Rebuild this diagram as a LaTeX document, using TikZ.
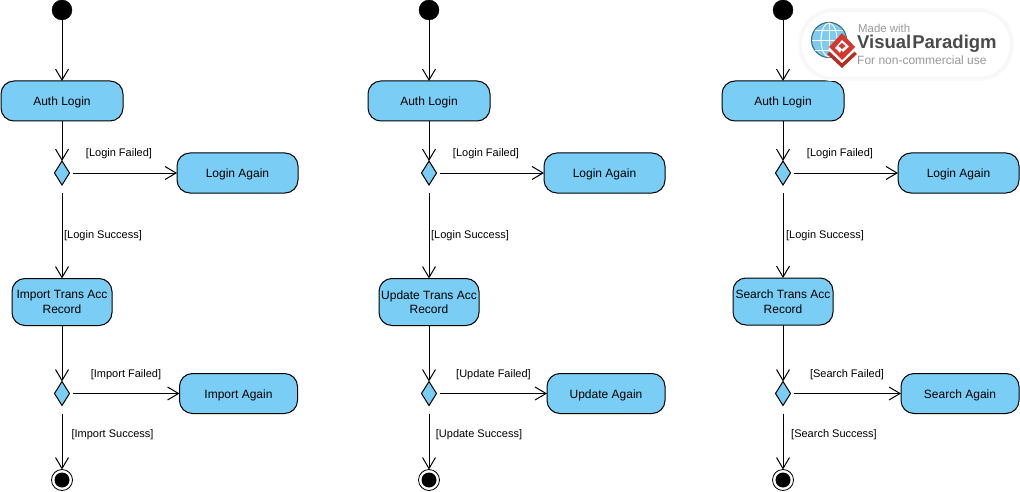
\documentclass[tikz,border=0pt]{standalone}
\usepackage{fontspec}
\setmainfont{Liberation Sans}
\usetikzlibrary{arrows.meta,shapes.geometric}
\definecolor{actblue}{HTML}{7ACEF5}
\definecolor{logogray}{HTML}{999999}
\definecolor{logodark}{HTML}{4A4A4A}
\definecolor{logored}{HTML}{D4382C}
\definecolor{logoblue}{HTML}{5FBDEB}
\tikzset{
	flow/.style={draw=black,line width=1pt,-{Straight Barb[length=11pt,width=13pt,line width=1pt]}},
	action/.style={draw=black,line width=1pt,fill=actblue,rectangle,rounded corners=13pt,inner sep=0pt,outer sep=0pt,align=center,font=\fontsize{12}{14.5}\selectfont,execute at begin node={\rule{0pt}{11.6pt}}},
	decision/.style={draw=black,line width=1pt,fill=actblue,diamond,inner sep=0pt,outer sep=0pt,minimum width=15pt,minimum height=24pt},
	startdot/.style={circle,fill=black,draw=black,inner sep=0pt,outer sep=0pt,minimum size=20pt},
	endring/.style={circle,fill=white,draw=black,line width=0.8pt,inner sep=0pt,outer sep=0pt,minimum size=21pt},
	enddot/.style={circle,fill=black,inner sep=0pt,outer sep=0pt,minimum size=15pt},
	guard/.style={inner sep=0pt,yshift=-1.5pt,font=\fontsize{11}{13}\selectfont},
}
\begin{document}
\begin{tikzpicture}[x=1pt,y=-1pt]
	\useasboundingbox (0,0) rectangle (1020,492);
	% import column
	\node [startdot] (s1) at (62,10) {};
	\node [action,minimum width=122pt,minimum height=40pt] (a1) at (62,101) {Auth Login};
	\node [decision] (d1) at (62,173) {};
	\node [action,minimum width=121pt,minimum height=40pt] (l1) at (237.5,173) {Login Again};
	\node [action,minimum width=100pt,minimum height=47pt] (r1) at (62,302) {Import Trans Acc\\Record};
	\node [decision] (q1) at (62,393.5) {};
	\node [action,minimum width=118pt,minimum height=40pt] (t1) at (238.5,393.5) {Import Again};
	\node [endring] (e1) at (62,480) {};
	\node [enddot] (f1) at (e1) {};
	\draw [flow] (s1) -- (a1);
	\draw [flow] (a1) -- (d1);
	\draw [flow,shorten <=3pt] (d1) -- (l1);
	\draw [flow,shorten <=8pt] (d1) -- (r1);
	\draw [flow] (r1) -- (q1);
	\draw [flow,shorten <=3pt] (q1) -- (t1);
	\draw [flow,shorten <=8pt] (q1) -- (e1);
	\node [guard] (g1) at (119,152.5) {[Login Failed]};
	\node [guard] (h1) at (103,234) {[Login Success]};
	\node [guard] (i1) at (126,373) {[Import Failed]};
	\node [guard] (j1) at (112.5,433) {[Import Success]};
	% update column
	\node [startdot] (s2) at (429,10) {};
	\node [action,minimum width=122pt,minimum height=40pt] (a2) at (429,101) {Auth Login};
	\node [decision] (d2) at (429,173) {};
	\node [action,minimum width=121pt,minimum height=40pt] (l2) at (604.5,173) {Login Again};
	\node [action,minimum width=100pt,minimum height=47pt] (r2) at (429,302) {Update Trans Acc\\Record};
	\node [decision] (q2) at (429,393.5) {};
	\node [action,minimum width=118pt,minimum height=40pt] (t2) at (606,393.5) {Update Again};
	\node [endring] (e2) at (429,480) {};
	\node [enddot] (f2) at (e2) {};
	\draw [flow] (s2) -- (a2);
	\draw [flow] (a2) -- (d2);
	\draw [flow,shorten <=3pt] (d2) -- (l2);
	\draw [flow,shorten <=8pt] (d2) -- (r2);
	\draw [flow] (r2) -- (q2);
	\draw [flow,shorten <=3pt] (q2) -- (t2);
	\draw [flow,shorten <=8pt] (q2) -- (e2);
	\node [guard] (g2) at (486,152.5) {[Login Failed]};
	\node [guard] (h2) at (470,234) {[Login Success]};
	\node [guard] (i2) at (493.5,373) {[Update Failed]};
	\node [guard] (j2) at (479,433) {[Update Success]};
	% search column
	\node [startdot] (s3) at (783,10) {};
	\node [action,minimum width=122pt,minimum height=40pt] (a3) at (783,101) {Auth Login};
	\node [decision] (d3) at (783,173) {};
	\node [action,minimum width=121pt,minimum height=40pt] (l3) at (958.5,173) {Login Again};
	\node [action,minimum width=100pt,minimum height=47pt] (r3) at (783,301.5) {Search Trans Acc\\Record};
	\node [decision] (q3) at (783,393.5) {};
	\node [action,minimum width=118pt,minimum height=40pt] (t3) at (960,393.5) {Search Again};
	\node [endring] (e3) at (783,480) {};
	\node [enddot] (f3) at (e3) {};
	\draw [flow] (s3) -- (a3);
	\draw [flow] (a3) -- (d3);
	\draw [flow,shorten <=3pt] (d3) -- (l3);
	\draw [flow,shorten <=8pt] (d3) -- (r3);
	\draw [flow] (r3) -- (q3);
	\draw [flow,shorten <=3pt] (q3) -- (t3);
	\draw [flow,shorten <=8pt] (q3) -- (e3);
	\node [guard] (g3) at (840,152.5) {[Login Failed]};
	\node [guard] (h3) at (825,234) {[Login Success]};
	\node [guard] (i3) at (847,373) {[Search Failed]};
	\node [guard] (j3) at (834,433) {[Search Success]};
	% logo
	\fill [black!2,rounded corners=35pt] (798,8) rectangle (1014,81);
	\fill [black!3,rounded corners=33pt] (800,10) rectangle (1012,79);
	\fill [white,rounded corners=32pt] (802,12) rectangle (1010,77);
	\fill [logoblue!80] (829,40) circle (17);
	\draw [logoblue!60!black,line width=1.2pt] (829,40) circle (17.5);
	\draw [white,line width=0.9pt] (812,40) -- (846,40) (815,30) -- (843,30) (815,50) -- (843,50) (829,23) -- (829,57);
	\draw [white,line width=0.9pt] (829,40) ellipse (8 and 17);
	\fill [logored!85!black] (842,68) -- (827,54) -- (842,40) -- (857,54) -- cycle;
	\fill [white] (842,63) -- (828,50) -- (842,37) -- (856,50) -- cycle;
	\fill [logored] (842,60) -- (829,47) -- (842,33) -- (855,47) -- cycle;
	\fill [white] (840,53) -- (835,48) -- (842,40) -- (849,46.5) -- (843,52) -- (841,50) -- cycle;
	\fill [logored] (842,49) -- (838.5,46) -- (842,43) -- (845.5,46) -- cycle;
	\node [inner sep=0pt,anchor=west,text=logogray,font=\fontsize{11.4}{13}\selectfont] (m1) at (858,28.5) {Made with};
	\node [inner sep=0pt,anchor=west,text=logodark,font=\fontsize{18.5}{20}\selectfont\bfseries] (m2) at (857,44) {Visual\kern1pt Paradigm};
	\node [inner sep=0pt,anchor=west,text=logogray,font=\fontsize{12}{14}\selectfont] (m3) at (857,60) {For non-commercial use};
\end{tikzpicture}
\end{document}
